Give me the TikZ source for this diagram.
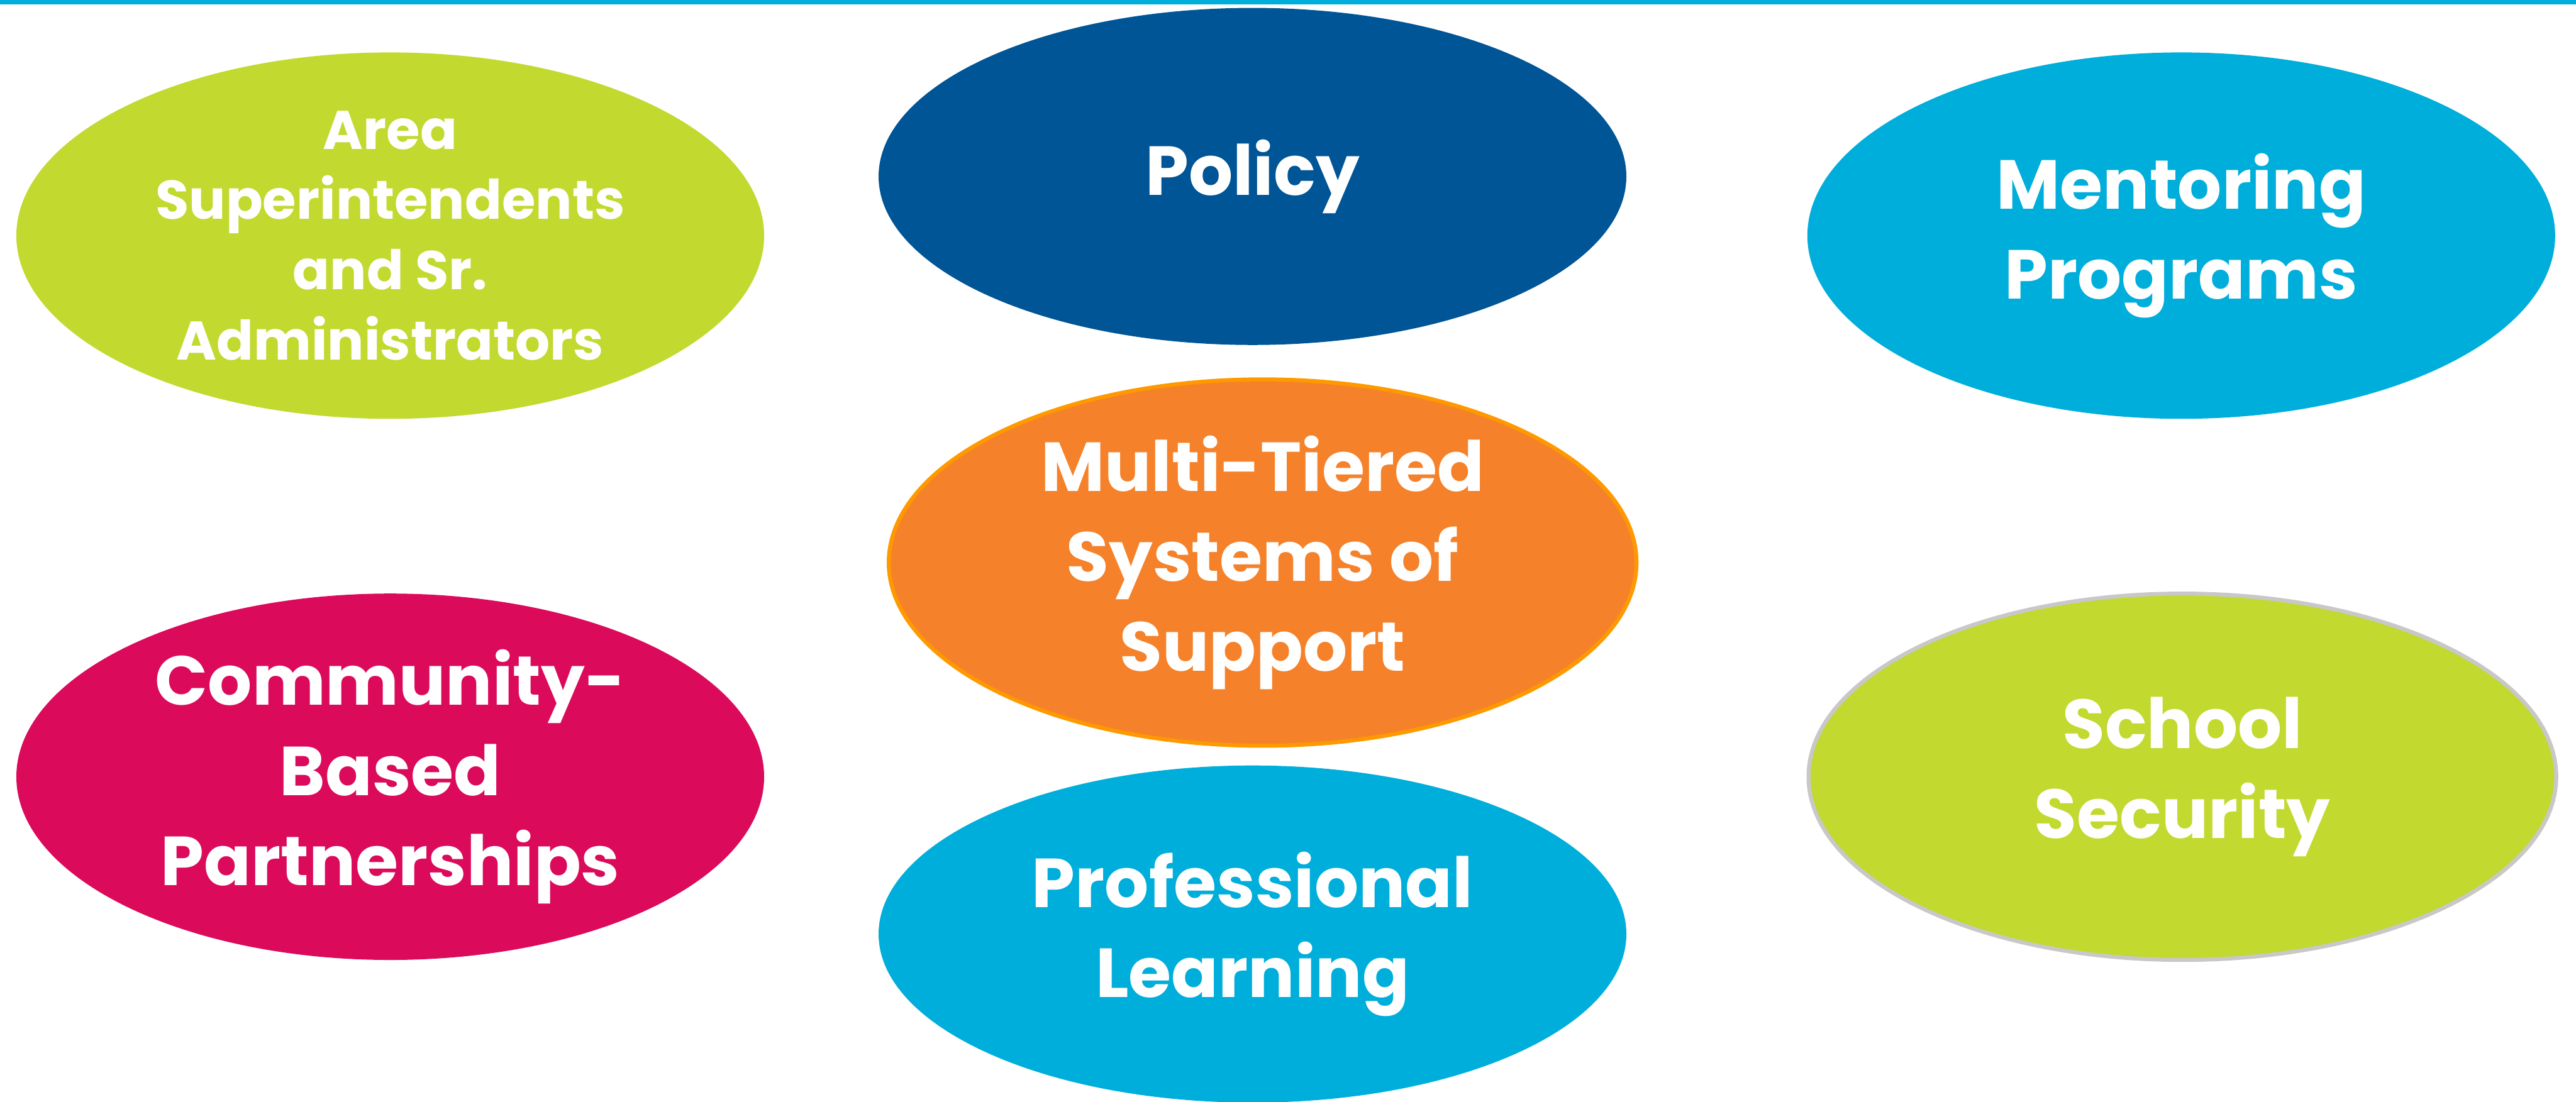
\documentclass[tikz,border=0pt]{standalone}
\usepackage{fontspec}
\setmainfont{Poppins}
\usepackage{xcolor}
\usetikzlibrary{shapes.geometric}

\definecolor{lime}{HTML}{C2D92F}
\definecolor{navy}{HTML}{005596}
\definecolor{sky}{HTML}{00AEDB}
\definecolor{tangerine}{HTML}{F5822A}
\definecolor{amber}{HTML}{FF9900}
\definecolor{berry}{HTML}{DB0A5B}
\definecolor{silver}{HTML}{C8C8C8}

\begin{document}
\begin{tikzpicture}[
    blob/.style={ellipse, fill=#1, inner sep=0pt, text=white, align=center,
        font=\bfseries\fontsize{35}{45.5}\selectfont},
    wide/.style={minimum width=13.26cm, minimum height=6.5cm},
    flat/.style={minimum width=13.26cm, minimum height=5.98cm}
]
\useasboundingbox (0,0) rectangle (45.68,-19.54);

% top rule
\fill[sky] (0,0) rectangle (45.68,-0.08);

% Row 1
\node[blob=lime, wide, font=\bfseries\fontsize{27.5}{35.5}\selectfont] (admin) at (6.92,-4.18)
    {Area\\Superintendents\\and Sr.\\Administrators};
\node[blob=navy, flat] (policy) at (22.21,-3.13) {Policy};
\node[blob=sky, wide] (mentor) at (38.68,-4.18) {Mentoring\\Programs};

% Centre
\node[blob=tangerine, wide, draw=amber, line width=2pt] (mtss) at (22.39,-9.98)
    {Multi-Tiered\\Systems of\\Support};

% Row 2
\node[blob=berry, wide] (community) at (6.92,-13.78) {Community-\\Based\\Partnerships};
\node[blob=sky, flat] (learning) at (22.21,-16.57) {Professional\\Learning};
\node[blob=lime, wide, draw=silver, line width=2pt] (security) at (38.70,-13.78)
    {School\\Security};

\end{tikzpicture}
\end{document}
